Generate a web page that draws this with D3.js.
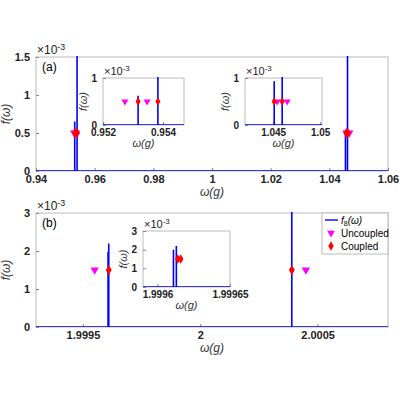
<!DOCTYPE html><html><head><meta charset="utf-8"><script src="https://cdn.jsdelivr.net/npm/d3@7"></script>
<style>body{margin:0;background:#fff}text{font-family:"Liberation Sans",Arial,sans-serif}</style></head><body><svg id="s" width="400" height="400"></svg>
<script>
// Data (values in units of 1e-3)
const peaksA=[[0.95317,0.62],[0.95383,1.6],[1.04511,0.93],[1.04596,1.6]];
const peaksAmain=[[0.9532,0.65],[0.9540,1.6],[1.0455,0.5],[1.0462,1.6]];
const uncA=[[0.95273,0.5],[0.95347,0.5],[1.04543,0.5],[1.04649,0.5]];
const coupA=[[0.95317,0.5],[0.95383,0.5],[1.04511,0.5],[1.04596,0.5]];
const uncAmain=[[0.9530,0.5],[0.9536,0.5],[1.0458,0.5],[1.0468,0.5]];
const coupAmain=[[0.9533,0.5],[0.9540,0.5],[1.0458,0.5],[1.0463,0.5]];
const peaksB=[[1.99961,2.2],[1.999607,1.98],[2.00039,3.2]];
const peaksBin=[[1.999611,2.0],[1.999613,2.2]];
const uncB=[[1.99955,1.5],[2.00045,1.5]];
const coupB=[[1.99961,1.5],[2.00039,1.5]];
const coupBin=[[1.999614,1.5],[1.999616,1.5]];
const svg=d3.select("#s");
const blue="#0000ff",mag="#ff00ff",red="#ff0000";
function panel(o){
  const g=svg.append("g");
  const x=d3.scaleLinear().domain(o.xd).range([o.x0,o.x1]);
  const y=d3.scaleLinear().domain(o.yd).range([o.y0,o.y1]);
  g.append("rect").attr("x",o.x0).attr("y",o.y1).attr("width",o.x1-o.x0).attr("height",o.y0-o.y1).attr("fill","#fff").attr("stroke","#aaa").attr("stroke-width",0.8);
  const cid="c"+Math.random().toString(36).slice(2);
  g.append("clipPath").attr("id",cid).append("rect").attr("x",o.x0).attr("y",o.y1-1).attr("width",o.x1-o.x0).attr("height",o.y0-o.y1+1);
  const ax=d3.axisBottom(x).tickValues(o.xt).tickFormat((d,i)=>o.xl[i]).tickSize(-3).tickPadding(4);
  const ay=d3.axisLeft(y).tickValues(o.yt).tickFormat(d=>d).tickSize(-3).tickPadding(6);
  for(const [a,tr] of [[ax,`translate(0,${o.y0})`],[ay,`translate(${o.x0},0)`]]){
    const s=g.append("g").attr("transform",tr).call(a);
    s.select(".domain").remove();s.selectAll("line").attr("stroke","#888");
    s.selectAll("text").attr("font-size",o.fs).attr("font-weight","bold").attr("fill","#222");
  }
  const pts=[[o.xd[0],0]];
  o.peaks.slice().sort((a,b)=>a[0]-b[0]).forEach(p=>{pts.push([p[0],0],[p[0],p[1]],[p[0],0]);});
  pts.push([o.xd[1],0]);
  g.append("path").attr("clip-path",`url(#${cid})`).attr("d",d3.line().x(d=>x(d[0])).y(d=>y(d[1]))(pts)).attr("fill","none").attr("stroke",blue).attr("stroke-width",1.6);
  const tri=d3.symbol().type(d3.symbolTriangle).size(o.ms);
  g.selectAll(null).data(o.unc).join("path").attr("d",tri).attr("transform",d=>`translate(${x(d[0])},${y(d[1])}) rotate(180)`).attr("fill",mag);
  g.selectAll(null).data(o.coup).join("path").attr("d",d3.symbol().type(d3.symbolDiamond).size(o.ms)).attr("transform",d=>`translate(${x(d[0])},${y(d[1])})`).attr("fill",red);
  g.append("text").attr("x",o.x0+1).attr("y",o.y1-3).attr("font-size",o.fs+1).attr("fill","#222").html('×10<tspan dy="-4" font-size="'+(o.fs*0.8)+'">-3</tspan>');
  g.append("text").attr("x",(o.x0+o.x1)/2).attr("y",o.y0+o.fs+o.lx).attr("text-anchor","middle").attr("font-size",o.fs+1).attr("font-family","DejaVu Serif").attr("font-style","italic").attr("fill","#333").text("ω(g)");
  g.append("text").attr("transform",`translate(${o.x0-o.ly},${(o.y0+o.y1)/2}) rotate(-90)`).attr("text-anchor","middle").attr("font-size",o.fs+1).attr("font-family","DejaVu Serif").attr("font-style","italic").attr("fill","#333").text("f(ω)");
  if(o.lab) g.append("text").attr("x",o.x0+6).attr("y",o.y1+14).attr("font-size",12).attr("font-family","Liberation Serif").text(o.lab);
}
panel({xd:[0.94,1.06],yd:[0,1.5],x0:36,x1:388,y0:171,y1:57,xt:[0.94,0.96,0.98,1,1.02,1.04,1.06],xl:["0.94","0.96","0.98","1","1.02","1.04","1.06"],yt:[0,0.5,1,1.5],peaks:peaksAmain,unc:uncAmain,coup:coupAmain,ms:30,fs:11,lx:14,ly:26,lab:"(a)"});
panel({xd:[0.952,0.9547],yd:[0,1],x0:103,x1:184,y0:125,y1:78,xt:[0.952,0.954],xl:["0.952","0.954"],yt:[0,1],peaks:peaksA,unc:uncA,coup:coupA,ms:22,fs:10,lx:12,ly:16});
panel({xd:[1.042,1.0502],yd:[0,1],x0:245,x1:322,y0:125,y1:78,xt:[1.045,1.05],xl:["1.045","1.05"],yt:[0,1],peaks:peaksA,unc:uncA,coup:coupA,ms:22,fs:10,lx:12,ly:16});
panel({xd:[1.9993,2.0008],yd:[0,3],x0:36,x1:388,y0:327,y1:213,xt:[1.9995,2,2.0005],xl:["1.9995","2","2.0005"],yt:[0,1,2,3],peaks:peaksB,unc:uncB,coup:coupB,ms:30,fs:11,lx:14,ly:26,lab:"(b)"});
panel({xd:[1.99959,1.99965],yd:[0,3],x0:143,x1:230,y0:287,y1:231,xt:[1.9996,1.99965],xl:["1.9996","1.99965"],yt:[0,1,2,3],peaks:peaksBin,unc:[],coup:coupBin,ms:26,fs:10,lx:12,ly:16});
// legend
const lg=svg.append("g");
lg.append("rect").attr("x",322).attr("y",213).attr("width",66).attr("height",41).attr("fill","#fff").attr("stroke","#aaa").attr("stroke-width",0.8);
lg.append("line").attr("x1",325).attr("x2",338).attr("y1",220).attr("y2",220).attr("stroke",blue).attr("stroke-width",1.4);
lg.append("path").attr("d",d3.symbol().type(d3.symbolTriangle).size(26)).attr("transform","translate(331,233) rotate(180)").attr("fill",mag);
lg.append("path").attr("d",d3.symbol().type(d3.symbolDiamond).size(26)).attr("transform","translate(331,246)").attr("fill",red);
lg.append("text").attr("x",341).attr("y",224).attr("font-size",10).attr("font-family","Liberation Serif").html('<tspan font-style="italic">f</tspan><tspan font-size="7" dy="2">8</tspan><tspan dy="-2" font-style="italic">(ω)</tspan>');
lg.append("text").attr("x",341).attr("y",237).attr("font-size",10).attr("font-family","Liberation Serif").text("Uncoupled");
lg.append("text").attr("x",341).attr("y",250).attr("font-size",10).attr("font-family","Liberation Serif").text("Coupled");
</script></body></html>
